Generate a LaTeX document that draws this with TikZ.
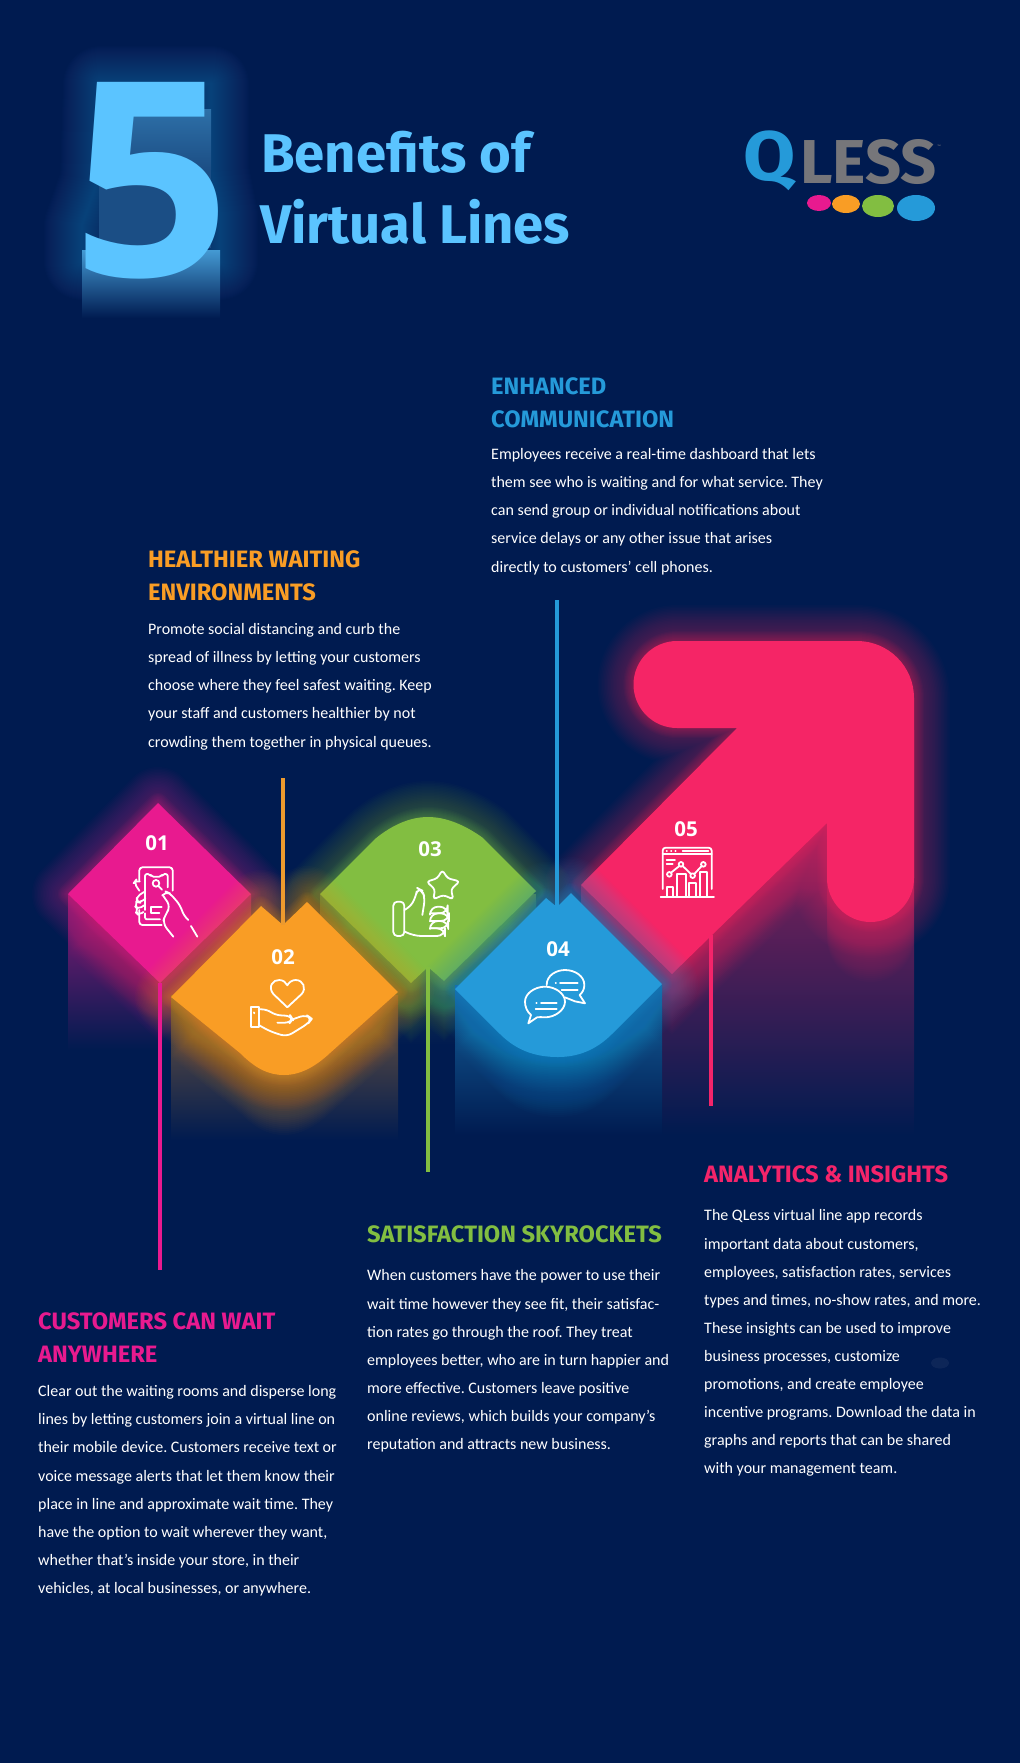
\documentclass[tikz,border=0pt]{standalone}
\usepackage{fontspec}
\setmainfont{Carlito}
\newfontfamily\headFont{Fira Sans}
\newfontfamily\numberFont{Open Sans}
\usetikzlibrary{positioning}
\definecolor{bgColor}{RGB}{0,27,80}
\definecolor{titleColor}{RGB}{91,196,255}
\definecolor{magentaColor}{RGB}{232,26,143}
\definecolor{orangeColor}{RGB}{249,157,37}
\definecolor{greenColor}{RGB}{130,190,65}
\definecolor{blueColor}{RGB}{37,154,217}
\definecolor{roseColor}{RGB}{245,37,102}
\definecolor{logoGray}{RGB}{118,118,122}
\tikzset{heading/.style={font=\headFont\bfseries\fontsize{23.7}{33.7}\selectfont, align=left, inner sep=0pt, anchor=north west}}
\tikzset{bodytext/.style={font=\frenchspacing\fontsize{16}{28.1}\selectfont, text=white, align=left, inner sep=0pt, anchor=north west}}
\tikzset{numberlabel/.style={font=\numberFont\bfseries\fontsize{20.5}{24}\selectfont, text=white, inner sep=0pt}}
\tikzset{stem/.style={line width=4pt}}
\tikzset{iconline/.style={draw=white, line width=1.8pt, line cap=round, line join=round, fill=none}}
% color, path, column path, top mix
\newcommand{\glowshape}[4]{
  \begin{scope}
  \clip #3;
  \shade[top color=#1!#4!bgColor, bottom color=bgColor] #3;
  \foreach \d in {2,4,...,60} {\fill[#1, opacity=.02, shift={(0,\d)}] #2;}
  \end{scope}
  \foreach \w in {3,6,...,72} {\draw[#1, opacity=.02, line width=\w pt, line join=round] #2;}
  \foreach \w in {2,4,...,20} {\draw[#1, opacity=.03, line width=\w pt, line join=round] #2;}
  \fill[#1] #2;
}
\begin{document}
\begin{tikzpicture}[x=1pt,y=-1pt]
\fill[bgColor] (0,0) rectangle (1020,1763);
\useasboundingbox (0,0) rectangle (1020,1763);

% Big five and title
\foreach \w in {2,4,...,76} {\draw[titleColor, opacity=.01, line width=\w pt, line join=round] (101,84) -- (211,84) -- (211,170) -- (220,215) -- (220,262) -- (82,262) -- (82,225) -- (98,180) -- cycle;}
\shade[top color=titleColor!50!bgColor, bottom color=titleColor!30!bgColor] (101,110) rectangle (211,170);
\fill[titleColor!30!bgColor] (99,170) rectangle (211,248);
\shade[top color=titleColor!75!bgColor, bottom color=bgColor] (82,250) rectangle (220,318);
\node (BigFive) [inner sep=0pt, text=titleColor, anchor=base] at (152,276) {\numberFont\bfseries\fontsize{272}{272}\selectfont\scalebox{1.02}[1]{5}};
\node (TitleOne) [font=\headFont\bfseries\fontsize{54.5}{60}\selectfont, text=titleColor, inner sep=0pt, anchor=base west] at (261,173) {Benefits of};
\node (TitleTwo) [font=\headFont\bfseries\fontsize{54.5}{60}\selectfont, text=titleColor, inner sep=0pt, anchor=base west] at (260,243) {Virtual Lines};

% Logo
\node (LogoQ) [font=\headFont\bfseries\fontsize{70}{70}\selectfont, text=blueColor, inner sep=0pt, anchor=base west] at (743,181) {\scalebox{1.08}[1]{Q}};
\node (LogoLess) [font=\headFont\bfseries\fontsize{62}{62}\selectfont, text=logoGray, inner sep=0pt, anchor=base west] at (800,183) {\scalebox{1.02}[1]{LESS}};
\node (LogoTm) [font=\fontsize{5}{5}\selectfont, text=logoGray, inner sep=0pt] at (939,147) {™};
\fill[magentaColor] (819,203) ellipse (12 and 8);
\fill[orangeColor] (846,204) ellipse (14 and 9);
\fill[greenColor] (878,206) ellipse (16 and 11);
\fill[blueColor] (916,208) ellipse (19 and 13);

% Back row
\glowshape{roseColor}{(581,885) -- (737,728) -- (677,728) .. controls (653,728) and (633.5,708.5) .. (633.5,684.5) .. controls (633.5,660.5) and (653,641) .. (677,641) -- (857,641) .. controls (888.5,641) and (914,666.5) .. (914,698) -- (914,878) .. controls (914,902) and (894.5,922) .. (870.5,922) .. controls (846.5,922) and (827,902) .. (827,878) -- (827,823) -- (672,974) -- cycle}{(581,885) -- (736,730) -- (914,730) -- (914,1135) -- (581,1135) -- cycle}{72}
\glowshape{greenColor}{(320,894) -- (375,839) .. controls (392,825) and (410,817) .. (428,817) .. controls (446,817) and (465,825) .. (483,838) -- (536,891) -- (444,981) -- (428,967) -- (411,983) -- cycle}{(320,894) rectangle (536,1045)}{45}
\glowshape{magentaColor}{(158,803) -- (251,894) -- (160,983) -- (68,894) -- cycle}{(68,894) rectangle (251,1050)}{60}

% Front row
\glowshape{orangeColor}{(171,997) -- (261,906) -- (283,925) -- (307,902) -- (398,992) -- (330,1053) .. controls (315,1067) and (300,1075) .. (284,1075) .. controls (268,1075) and (255,1068) .. (240,1053) -- cycle}{(171,995) rectangle (398,1140)}{45}
\glowshape{blueColor}{(455,989) -- (546,898) -- (557,907) -- (571,893) -- (662,984) -- (612,1034) .. controls (596,1050) and (578,1057) .. (558,1057) .. controls (538,1057) and (518,1052) .. (500,1034) -- cycle}{(455,985) rectangle (662,1135)}{55}

% Connectors
\coordinate (TipOne) at (160,983);
\coordinate (EndOne) at (160,1270);
\coordinate (TipTwo) at (283,925);
\coordinate (EndTwo) at (283,778);
\coordinate (TipThree) at (428,967);
\coordinate (EndThree) at (428,1172);
\coordinate (TipFour) at (557,907);
\coordinate (EndFour) at (557,600);
\coordinate (TipFive) at (711,935);
\coordinate (EndFive) at (711,1106);
\draw[stem, magentaColor] (TipOne) -- (EndOne);
\draw[stem, orangeColor!90!gray] (TipTwo) -- (EndTwo);
\draw[stem, greenColor] (TipThree) -- (EndThree);
\draw[stem, blueColor] (TipFour) -- (EndFour);
\draw[stem, roseColor!90!magentaColor] (TipFive) -- (EndFive);

% Numbers
\node (NumOne) [numberlabel] at (157,843) {01};
\node (NumTwo) [numberlabel] at (283,957) {02};
\node (NumThree) [numberlabel] at (430,849) {03};
\node (NumFour) [numberlabel] at (558,949) {04};
\node (NumFive) [numberlabel] at (686,829) {05};

% Icon phone
\begin{scope}[shift={(120,850)},x=.3333pt,y=-.3333pt]
\draw[iconline, rounded corners=3pt] (58,92) -- (58,52) -- (158,52) -- (158,122);
\draw[iconline, rounded corners=2pt] (75,180) -- (75,72) -- (90,72) -- (94,80) -- (124,80) -- (128,72) -- (143,72) -- (143,112);
\draw[iconline, rounded corners=3pt] (58,180) -- (58,225) -- (125,225);
\draw[iconline, rounded corners=2pt] (75,190) -- (75,208) -- (120,208);
\draw[iconline] (125,170) -- (92,170) -- (92,190) -- (118,190);
\draw[iconline] (108,100) circle (10);
\draw[iconline] (115,108) -- (126,119);
\draw[iconline, rounded corners=4pt] (58,122) -- (42,98) -- (48,90) -- (58,94);
\draw[iconline, rounded corners=4pt] (72,126) -- (50,140) -- (50,156) -- (60,158) -- (76,146);
\draw[iconline, rounded corners=4pt] (50,156) -- (44,168) -- (54,178) -- (72,166);
\draw[iconline, rounded corners=4pt] (50,176) -- (46,186) -- (56,196) -- (70,186);
\draw[iconline, rounded corners=5pt] (128,135) -- (136,124) -- (150,130) -- (180,165) -- (192,198) -- (205,210);
\draw[iconline] (213,228) -- (232,260);
\draw[iconline, rounded corners=6pt] (128,135) -- (152,170) -- (135,195) -- (128,220) -- (160,260);

% Icon hand and heart
\end{scope}
\begin{scope}[shift={(240,970)},x=.3333pt,y=-.3333pt]
\draw[iconline] (142,112) -- (100,72) .. controls (82,50) and (100,28) .. (118,30) .. controls (130,30) and (138,38) .. (142,46) .. controls (146,38) and (155,30) .. (167,30) .. controls (190,30) and (200,55) .. (185,72) -- cycle;
\draw[iconline] (32,112) rectangle (56,172);
\draw[iconline] (42,127) -- (43,130);
\draw[iconline, rounded corners=5pt] (56,118) -- (80,118) -- (106,135) -- (152,138) -- (158,148) -- (150,158) -- (112,158);
\draw[iconline, rounded corners=6pt] (152,150) -- (198,134) -- (216,146) -- (205,160) -- (140,200) -- (90,184) -- (56,165);

% Icon thumb and star
\end{scope}
\begin{scope}[shift={(385,860)},x=.3333pt,y=-.3333pt]
\draw[iconline, rounded corners=4pt] (25,125) rectangle (58,228);
\draw[iconline, rounded corners=6pt] (58,150) -- (75,142) -- (92,112) -- (97,84) -- (112,92) -- (120,115) -- (112,165);
\draw[iconline, rounded corners=8pt] (135,160) -- (135,140) -- (188,140) -- (188,160) -- (135,160);
\draw[iconline, rounded corners=8pt] (135,183) -- (135,160) -- (192,160) -- (192,183) -- (135,183);
\draw[iconline, rounded corners=8pt] (135,205) -- (135,183) -- (190,183) -- (190,205) -- (135,205);
\draw[iconline, rounded corners=8pt] (135,205) -- (180,205) -- (180,228) -- (85,228) -- (58,214);
\draw[iconline, rounded corners=3pt] (172,30) -- (188,55) -- (224,64) -- (198,88) -- (205,118) -- (175,105) -- (145,118) -- (150,88) -- (125,65) -- (157,55) -- cycle;

% Icon speech bubbles
\end{scope}
\begin{scope}[shift={(515,960)},x=.3333pt,y=-.3333pt]
\draw[iconline] (95,75) .. controls (95,45) and (125,30) .. (150,30) .. controls (180,30) and (208,48) .. (208,75) .. controls (208,88) and (202,98) .. (194,105) -- (210,130) -- (180,124) -- (150,112);
\draw[iconline] (40,190) -- (48,165) .. controls (36,155) and (30,140) .. (30,125) .. controls (30,100) and (60,80) .. (90,80) .. controls (120,80) and (150,100) .. (150,125) .. controls (150,150) and (120,172) .. (90,172) .. controls (80,172) and (72,170) .. (66,172) -- cycle;
\draw[iconline] (122,70) -- (123,70) (135,70) -- (188,70) (140,90) -- (188,90);
\draw[iconline] (64,128) -- (65,128) (78,128) -- (125,128) (62,148) -- (125,148);

% Icon dashboard
\end{scope}
\begin{scope}[shift={(650,835)},x=.3333pt,y=-.3333pt]
\draw[iconline, rounded corners=3pt] (38,162) -- (38,38) -- (185,38) -- (185,162);
\draw[iconline] (38,58) -- (185,58) (32,186) -- (192,186);
\draw[iconline] (50,47) -- (51,47) (63,47) -- (64,47) (76,47) -- (77,47) (98,47) -- (175,47);
\draw[iconline] (50,75) -- (75,75) (50,88) -- (68,88);
\draw[iconline] (58,118) circle (7) (93,88) circle (7) (128,122) circle (7) (160,88) circle (7);
\draw[iconline] (63,113) -- (88,93) (98,93) -- (123,117) (133,117) -- (155,93);
\draw[iconline] (50,186) -- (50,155) -- (70,155) -- (70,186);
\draw[iconline] (82,186) -- (82,118) -- (108,118) -- (108,186);
\draw[iconline] (118,186) -- (118,145) -- (138,145) -- (138,186);
\draw[iconline] (150,186) -- (150,112) -- (172,112) -- (172,186);
\end{scope}

% Text blocks
\node (HeadComm) [heading, text=blueColor] at (491,377) {ENHANCED\\COMMUNICATION};
\node (BodyComm) [bodytext, below=20pt of HeadComm.south west, anchor=north west] {Employees receive a real-time dashboard that lets\\them see who is waiting and for what service. They\\can send group or individual notifications about\\service delays or any other issue that arises\\directly to customers’ cell phones.};

\node (HeadHealth) [heading, text=orangeColor] at (148,550) {HEALTHIER WAITING\\ENVIRONMENTS};
\node (BodyHealth) [bodytext, below=22pt of HeadHealth.south west, anchor=north west] {Promote social distancing and curb the\\spread of illness by letting your customers\\choose where they feel safest waiting. Keep\\your staff and customers healthier by not\\crowding them together in physical queues.};

\node (HeadSatis) [heading, text=greenColor] at (367,1225) {SATISFACTION SKYROCKETS};
\node (BodySatis) [bodytext, below=27pt of HeadSatis.south west, anchor=north west] {When customers have the power to use their\\wait time however they see fit, their satisfac-\\tion rates go through the roof. They treat\\employees better, who are in turn happier and\\more effective. Customers leave positive\\online reviews, which builds your company’s\\reputation and attracts new business.};

\node (HeadWait) [heading, text=magentaColor] at (38,1312) {CUSTOMERS CAN WAIT\\ANYWHERE};
\node (BodyWait) [bodytext, below=22.5pt of HeadWait.south west, anchor=north west] {Clear out the waiting rooms and disperse long\\lines by letting customers join a virtual line on\\their mobile device. Customers receive text or\\voice message alerts that let them know their\\place in line and approximate wait time. They\\have the option to wait wherever they want,\\whether that’s inside your store, in their\\vehicles, at local businesses, or anywhere.};

\node (HeadInsight) [heading, text=roseColor!90!magentaColor] at (704,1165) {ANALYTICS \& INSIGHTS};
\node (BodyInsight) [bodytext, below=27pt of HeadInsight.south west, anchor=north west] {The QLess virtual line app records\\important data about customers,\\employees, satisfaction rates, services\\types and times, no-show rates, and more.\\These insights can be used to improve\\business processes, customize\\promotions, and create employee\\incentive programs. Download the data in\\graphs and reports that can be shared\\with your management team.};

\fill[white, opacity=.05] (940,1363) ellipse (9 and 5.5);
\end{tikzpicture}
\end{document}
